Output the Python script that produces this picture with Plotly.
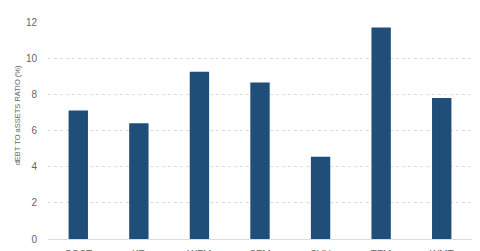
import plotly.graph_objects as go

tickers = ["COST", "KR", "WFM", "SFM", "SVU", "TFM", "WMT"]
debt_to_assets = [7.1, 6.4, 9.25, 8.65, 4.55, 11.7, 7.8]
y_ticks = [0, 2, 4, 6, 8, 10, 12]
y_title = "dEBT TO aSSETS RATIO (%)"

fig = go.Figure(go.Bar(
    x=tickers, y=debt_to_assets,
    marker=dict(color="#1f4e79", line=dict(width=0)),
    width=0.32,
))

fig.update_layout(
    width=480, height=251,
    margin=dict(l=48, r=8, t=22, b=12),
    paper_bgcolor="white", plot_bgcolor="white",
    showlegend=False,
    font=dict(family="Liberation Sans, Arial, sans-serif", color="#666666"),
    annotations=[dict(
        text=y_title, textangle=-90, showarrow=False,
        xref="paper", yref="paper", x=-0.073, y=0.57,
        xanchor="center", yanchor="middle",
        font=dict(size=7.5, color="#666666"),
    )],
)
fig.update_yaxes(
    range=[0, 12], tickvals=y_ticks, ticktext=[str(v) for v in y_ticks],
    showgrid=True, gridcolor="#dcdcdc", griddash="dot", gridwidth=1,
    zeroline=False, showline=False, automargin=False,
    tickfont=dict(size=10, color="#666666"),
    ticklabelstandoff=10,
)
fig.update_xaxes(
    showgrid=False, showline=True, linecolor="#dcdcdc", linewidth=1,
    automargin=False,
    tickfont=dict(size=10, color="#666666"),
    ticklabelstandoff=6,
)

fig.write_html("out.html")
